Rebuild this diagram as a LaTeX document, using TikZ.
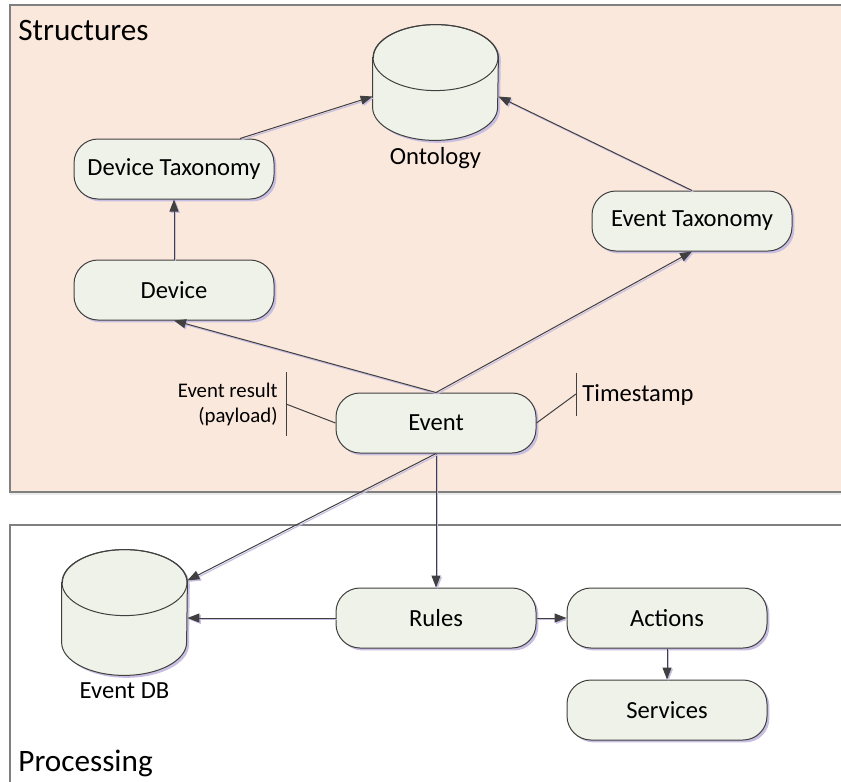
\documentclass[tikz,border=0pt]{standalone}
\usepackage{fontspec}
\setmainfont{Carlito}
\usetikzlibrary{arrows.meta,positioning,calc,shadows}
\definecolor{panelfill}{RGB}{251,232,220}
\definecolor{panelline}{RGB}{128,128,128}
\definecolor{boxfill}{RGB}{239,242,232}
\definecolor{boxline}{RGB}{64,64,64}
\definecolor{shade}{RGB}{200,190,226}
\tikzset{
  box/.style={
    draw=boxline,
    line width=0.5pt,
    rounded corners=12pt,
    fill=boxfill,
    minimum width=100pt,
    minimum height=30pt,
    align=center,
    inner sep=2pt,
    font=\fontsize{12.3}{14}\selectfont,
    drop shadow={shadow xshift=1.2pt, shadow yshift=-1.2pt, fill=shade, opacity=1}
  },
  drum/.style={shape=rectangle, minimum width=62.5pt, inner sep=0pt},
  drumbody/.style={draw=boxline, line width=0.5pt, fill=boxfill,
    drop shadow={shadow xshift=1.2pt, shadow yshift=-1.2pt, fill=shade, opacity=1}},
  drumline/.style={draw=boxline, line width=0.5pt},
  drumlabel/.style={font=\fontsize{12.3}{14}\selectfont},
  flow/.style={draw=boxline, line width=0.5pt, -{Triangle[length=6pt,width=4.5pt]},
    preaction={draw=shade, line width=0.6pt, transform canvas={shift={(0.7pt,-0.7pt)}}}},
  callout/.style={draw=boxline, line width=0.5pt},
  note/.style={inner sep=2pt, align=right, font=\fontsize{10.4}{12.5}\selectfont},
  stamp/.style={inner sep=2pt, font=\fontsize{12.3}{14}\selectfont},
  title/.style={inner sep=3pt, font=\fontsize{15.6}{18}\selectfont},
  panel/.style={draw=panelline, line width=1pt,
    drop shadow={shadow xshift=0pt, shadow yshift=-1.5pt, fill=black!8, opacity=1}}
}
\newcommand{\drumrx}{31.25pt}
\newcommand{\drumry}{16.5pt}
% cylinder store: name, centre, height, caption
\newcommand{\drum}[4]{%
  \node[drum, minimum height=#3] (#1) at (#2) {};
  \path[drumbody] ([yshift=-\drumry]#1.north west) -- ([yshift=\drumry]#1.south west)
    arc[start angle=180, end angle=360, x radius=\drumrx, y radius=\drumry]
    -- ([yshift=-\drumry]#1.north east)
    arc[start angle=0, end angle=180, x radius=\drumrx, y radius=\drumry] -- cycle;
  \draw[drumline] ([yshift=-\drumry]#1.north) ellipse [x radius=\drumrx, y radius=\drumry];
  \node[drumlabel, below=0pt of #1] (#1-label) {#4};
}

\begin{document}
\begin{tikzpicture}[x=0.5pt, y=-0.5pt]
  \path[use as bounding box, clip] (0,0) rectangle (841,782);

  % the two layers
  \path[panel, fill=panelfill] (10,5) rectangle (870,492);
  \path[panel, fill=white] (10,525) rectangle (870,820);
  \node[title, anchor=west] (structtitle) at (12,30) {Structures};
  \node[title, anchor=west] (proctitle) at (12,763) {Processing};

  % structures
  \drum{ont}{435.5,82.5}{57.5pt}{Ontology}
  \node[box] (dtax) at (174,169) {Device Taxonomy};
  \node[box] (dev) at (174,290) {Device};
  \node[box] (etax) at (692,221) {Event Taxonomy};
  \node[box] (evt) at (436,423) {Event};

  % event attributes
  \coordinate (paybar) at (286,404);
  \draw[callout] ([yshift=16pt]paybar) -- ([yshift=-16pt]paybar);
  \draw[callout] (paybar) -- (evt.west);
  \node[note, anchor=east] (payload) at (282,404) {Event result\\(payload)};
  \coordinate (stampbar) at (576,394);
  \draw[callout] ([yshift=10.75pt]stampbar) -- ([yshift=-10.75pt]stampbar);
  \draw[callout] (stampbar) -- (evt.east);
  \node[stamp, anchor=west] (stamp) at (578,395) {Timestamp};

  % processing
  \drum{edb}{124.5,612.5}{62.5pt}{Event DB}
  \node[box] (rules) at (436,618) {Rules};
  \node[box] (act) at (667,618) {Actions};
  \node[box] (srv) at (667,710) {Services};

  \draw[flow] ([xshift=33pt]dtax.north) -- ([yshift=-7pt]ont.west);
  \draw[flow] (dev) -- (dtax);
  \draw[flow] (etax.north) -- ([yshift=-7pt]ont.east);
  \draw[flow] (evt.north) -- (dev.south);
  \draw[flow] (evt.north) -- (etax.south);
  \draw[flow] (evt.south) -- (rules.north);
  \draw[flow] (evt.south) -- ([yshift=16pt]edb.east);
  \draw[flow] (rules.west) -- (rules.west -| edb.east);
  \draw[flow] (rules) -- (act);
  \draw[flow] (act) -- (srv);
\end{tikzpicture}
\end{document}
